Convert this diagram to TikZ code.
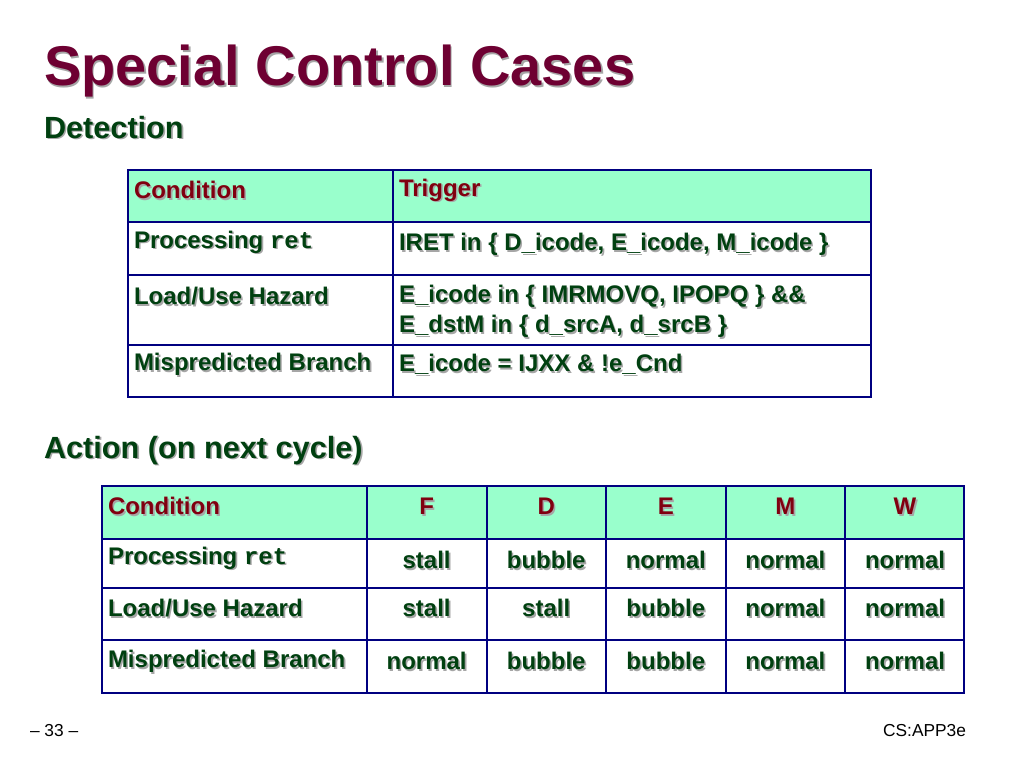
\documentclass[tikz,border=0pt]{standalone}
\usepackage{fontspec}
\setmainfont{Liberation Sans}
\setmonofont{Liberation Mono}
\definecolor{titlered}{RGB}{110,0,50}
\definecolor{bodygreen}{RGB}{0,64,16}
\definecolor{headred}{RGB}{128,0,16}
\definecolor{headfill}{RGB}{153,255,204}
\definecolor{rulenavy}{RGB}{0,0,128}
\newcommand{\shd}[2]{\makebox[0pt][l]{\hspace{1.2pt}\raisebox{-1.2pt}{\color{gray!70}#2}}{\color{#1}#2}}
\begin{document}
\begin{tikzpicture}[x=0.75pt,y=-0.75pt]
\tikzset{ inner sep=0pt, outer sep=0pt,
  cell/.style={anchor=west, font=\fontsize{18}{20}\selectfont\bfseries},
  mid/.style={anchor=center, font=\fontsize{18}{20}\selectfont\bfseries},
  grid/.style={rulenavy, line width=0.8pt},
  frame/.style={rulenavy, line width=1.6pt} }
\useasboundingbox (0,0) rectangle (1024,767);

\node [anchor=west, font=\fontsize{42}{44}\selectfont\bfseries] (T) at (44,72) {\shd{titlered}{Special Control Cases}};
\node [anchor=west, font=\fontsize{23}{25}\selectfont\bfseries] (H1) at (44,128) {\shd{bodygreen}{Detection}};
\node [anchor=west, font=\fontsize{23}{25}\selectfont\bfseries] (H2) at (44,451) {\shd{bodygreen}{Action (on next cycle)}};

% detection table
\fill [headfill] (128,170) rectangle (871,222);
\draw [grid] (128,222) -- (871,222);
\draw [grid] (128,275) -- (871,275);
\draw [grid] (128,345) -- (871,345);
\draw [grid] (393,170) -- (393,397);
\draw [frame] (128,170) rectangle (871,397);

\node [cell] (c0) at (134,191) {\shd{headred}{Condition}};
\node [cell] (t0) at (399,191) {\shd{headred}{Trigger}};
\node [cell] (c1) at (134,243) {\shd{bodygreen}{Processing \texttt{ret}}};
\node [cell] (t1) at (399,245) {\shd{bodygreen}{IRET in \{ D\_icode, E\_icode, M\_icode \}}};
\node [cell] (c2) at (134,297) {\shd{bodygreen}{Load/Use Hazard}};
\node [cell] (t2) at (399,297) {\shd{bodygreen}{E\_icode in \{ IMRMOVQ, IPOPQ \} \&\&}};
\node [cell] (t2b) at (399,327) {\shd{bodygreen}{E\_dstM in \{ d\_srcA, d\_srcB \}}};
\node [cell] (c3) at (134,365) {\shd{bodygreen}{Mispredicted Branch}};
\node [cell] (t3) at (399,365) {\shd{bodygreen}{E\_icode = IJXX \& !e\_Cnd}};

% action table
\fill [headfill] (102,486) rectangle (964,539);
\foreach \y in {539,588,640} \draw [grid] (102,\y) -- (964,\y);
\foreach \x in {367,487,606,726,845} \draw [grid] (\x,486) -- (\x,693);
\draw [frame] (102,486) rectangle (964,693);

\node [cell] (a0) at (108,507) {\shd{headred}{Condition}};
\foreach \s [count=\i] in {F,D,E,M,W}
  \node [mid] (h\i) at (307+119.6*\i,507) {\shd{headred}{\s}};
\node [cell] (a1) at (108,559) {\shd{bodygreen}{Processing \texttt{ret}}};
\node [cell] (a2) at (108,609) {\shd{bodygreen}{Load/Use Hazard}};
\node [cell] (a3) at (108,662) {\shd{bodygreen}{Mispredicted Branch}};
\foreach \s [count=\i] in {stall,bubble,normal,normal,normal}
  \node [mid] (p\i) at (307+119.6*\i,561) {\shd{bodygreen}{\s}};
\foreach \s [count=\i] in {stall,stall,bubble,normal,normal}
  \node [mid] (l\i) at (307+119.6*\i,609) {\shd{bodygreen}{\s}};
\foreach \s [count=\i] in {normal,bubble,bubble,normal,normal}
  \node [mid] (m\i) at (307+119.6*\i,662) {\shd{bodygreen}{\s}};

\node [anchor=west, font=\fontsize{13}{15}\selectfont] (pg) at (30,731) {-- 33 --};
\node [anchor=east, font=\fontsize{13}{15}\selectfont] (cs) at (966,731) {CS:APP3e};
\end{tikzpicture}
\end{document}
